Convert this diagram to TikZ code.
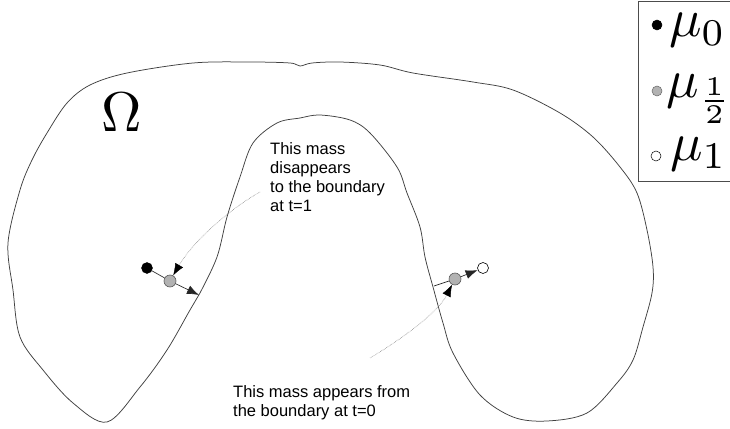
\documentclass[tikz,border=0pt]{standalone}
\usepackage{graphicx}
\usepackage{fontspec}
\newfontfamily\arialfont{Liberation Sans}
\usetikzlibrary{arrows.meta}
\begin{document}
\begin{tikzpicture}[x=1pt,y=-1pt,
  outline/.style={draw=black!75, line width=0.75pt},
  dotblack/.style={circle, draw=black, fill=black, inner sep=0pt, minimum size=11pt},
  dotgrey/.style={circle, draw=black!65, fill=black!30, line width=0.6pt, inner sep=0pt, minimum size=12pt},
  dotwhite/.style={circle, draw=black, fill=white, line width=0.6pt, inner sep=0pt, minimum size=11pt},
  legdot/.style={circle, inner sep=0pt, line width=0.5pt, minimum size=10pt},
  conn/.style={draw=black!85, line width=0.65pt},
  arr/.style={conn, -{Latex[length=12pt,width=9pt]}},
  hint/.style={draw=black!60, densely dotted, line width=0.5pt, -{Latex[length=12pt,width=9pt,fill=black,color=black]}},
  note/.style={font=\arialfont\fontsize{16.5}{19}\selectfont, align=left, inner sep=0pt, anchor=north west},
  legtext/.style={inner sep=0pt, anchor=base west}
]
\useasboundingbox (0,0) rectangle (730,428);
\fill[white] (0,0) rectangle (730,428);

% domain outline
\draw[outline] plot[smooth cycle, tension=0.55] coordinates {
 (300,66) (312,63) (340,62) (380,65) (413,73) (473,82) (513,90) (560,113)
 (593,137) (620,167) (637,193) (647,230) (653,267) (652,293) (643,327)
 (633,360) (617,383) (587,413) (547,421) (513,417) (480,395) (453,353)
 (443,323) (433,287) (425,257) (420,227) (407,193) (397,167) (370,133)
 (350,120) (320,115) (300,118) (277,123) (253,143) (240,177) (227,217)
 (217,257) (200,293) (190,310) (167,350) (140,387) (107,422) (73,403)
 (43,370) (20,337) (13,290) (8,243) (20,190) (32,160) (47,133) (67,103)
 (90,85) (127,73) (193,63) (250,62) (290,63)};

\node[inner sep=0pt] (omega) at (122,112) {\scalebox{5.6}{$\Omega$}};

% left masses
\node[dotblack] (k1) at (147,268) {};
\node[dotgrey] (g1) at (170,281) {};
\coordinate (b1) at (199,295);
\draw[conn] (k1) -- (g1);
\draw[arr] (g1) -- (b1);

% right masses
\node[dotgrey] (g2) at (455,279) {};
\node[dotwhite] (w2) at (483,268) {};
\coordinate (b2) at (434,286);
\draw[conn] (b2) -- (g2);
\draw[arr] (g2) -- (w2);

% notes
\node[note] (n1) at (270,142) {This mass\\disappears\\to the boundary\\at t=1};
\node[note] (n2) at (233,385) {This mass appears from\\the boundary at t=0};
\coordinate (h1) at (260,192);
\coordinate (h2) at (370,358);
\draw[hint] (h1) .. controls (228,210) and (192,243) .. (g1);
\draw[hint] (h2) .. controls (405,337) and (438,312) .. (g2);

% legend
\draw[draw=black!70, line width=0.8pt] (638,1.5) rectangle (745,181);
\node[legdot, fill=black, draw=black] (l0) at (657,25) {};
\node[legdot, fill=black!30, draw=black!60] (lh) at (657,91) {};
\node[legdot, fill=white, draw=black] (l1) at (656,156) {};
\node[legtext] (t0) at (669,37) {\scalebox{5.4}{$\mu_{0}$}};
\node[legtext] (th) at (666,97) {\scalebox{5.4}{$\mu_{\frac{1}{2}}$}};
\node[legtext] (t1) at (670,160) {\scalebox{5.4}{$\mu_{1}$}};
\end{tikzpicture}
\end{document}
